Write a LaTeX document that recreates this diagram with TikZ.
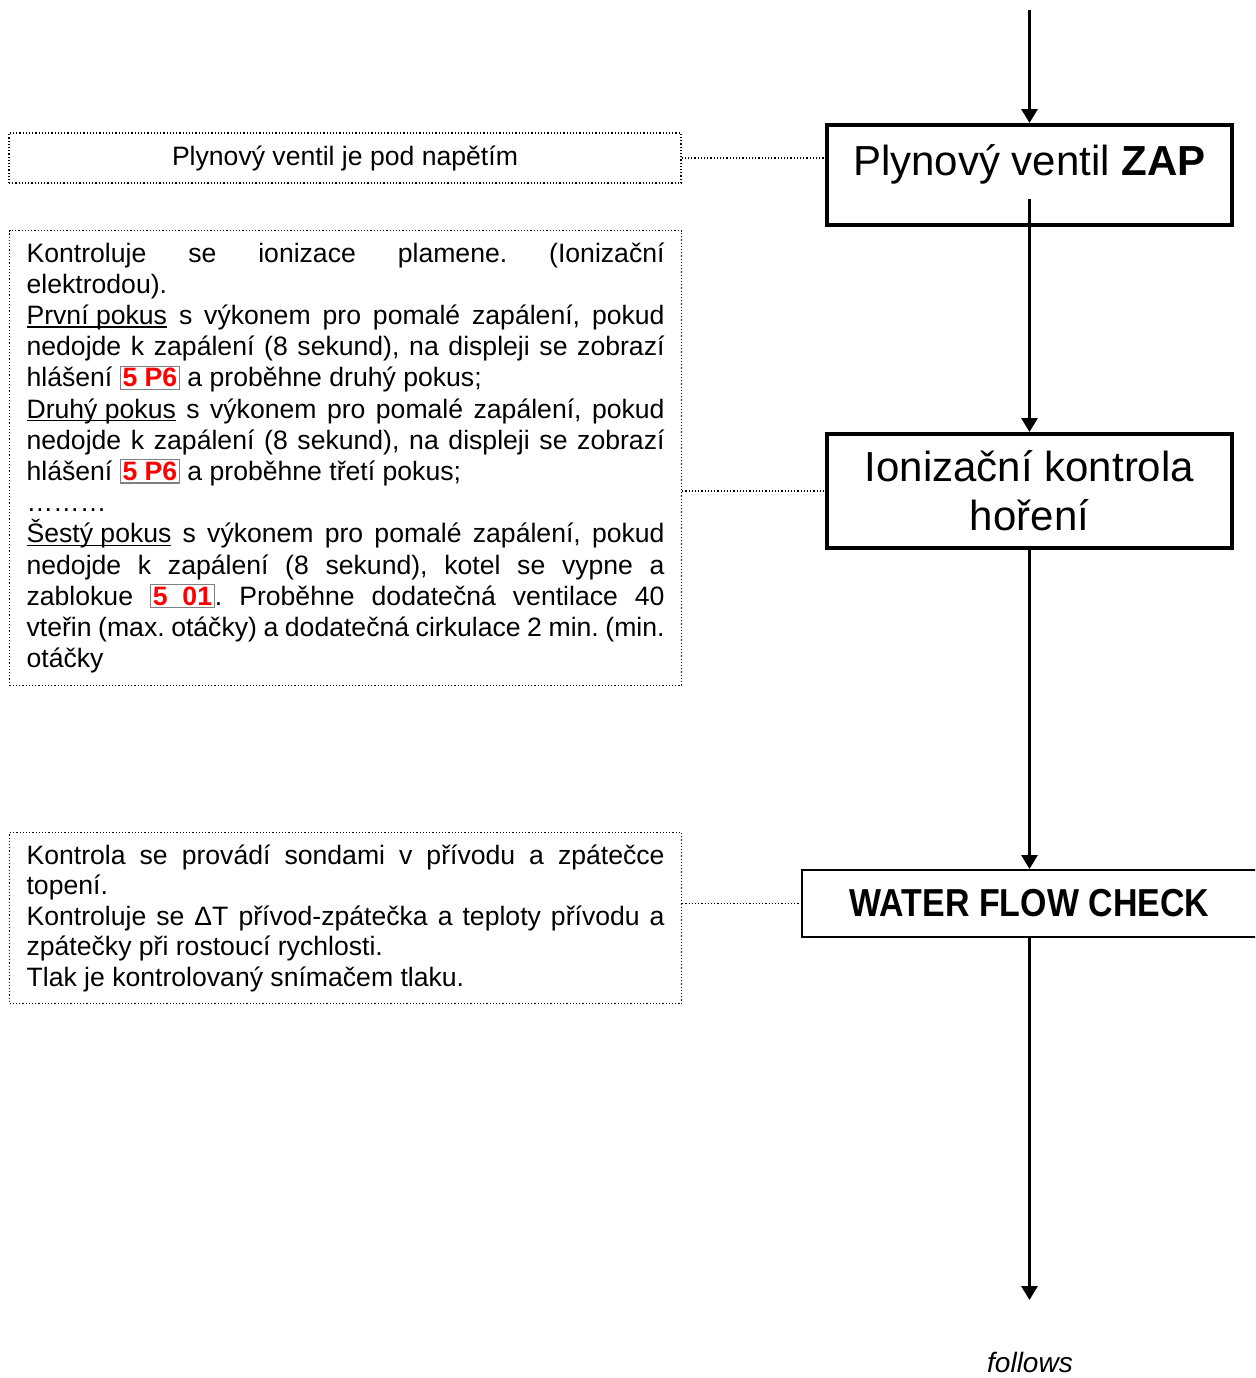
\documentclass[tikz,border=0pt]{standalone}
\usepackage{fontspec}
\setmainfont{Liberation Sans}
\newfontfamily\narrowfont{Liberation Sans}[FakeStretch=0.87]
\usetikzlibrary{arrows.meta, positioning}
\setlength{\parindent}{0pt}
\frenchspacing
\newsavebox{\ulbox}
\newcommand{\ulword}[1]{\leavevmode\sbox{\ulbox}{#1}\rlap{\rule[-1.5pt]{\wd\ulbox}{0.55pt}}\usebox{\ulbox}}
\newcommand{\errcode}[1]{{\setlength{\fboxsep}{0.8pt}\setlength{\fboxrule}{0.6pt}\fcolorbox{gray}{white}{\textcolor{red}{\textbf{#1}}}}}

\begin{document}
\begin{tikzpicture}[x=0.5pt, y=-0.5pt]
\tikzset{
  stepbox/.style={
    draw,
    line width=2pt,
    fill=white,
    minimum width=202.5pt,
    align=center,
    font=\fontsize{21}{24.5}\selectfont
  },
  notebox/.style={
    draw,
    densely dotted,
    line width=0.6pt,
    inner xsep=8.5pt,
    inner ysep=6pt
  },
  notetext/.style={
    notebox,
    text width=319pt,
    align=justify
  },
  flow/.style={-{Triangle[length=7pt, width=8pt]}, line width=1.5pt},
  link/.style={densely dotted, line width=0.6pt}
}
\useasboundingbox (0,0) rectangle (1255,1378);
\clip (0,0) rectangle (1255,1378);

% Flow boxes on the right
\node[stepbox, minimum height=50pt, inner ysep=0pt, text height=25pt, text depth=25pt] (zap) at (1029.5,175) {Plynový ventil \textbf{ZAP}};
\node[stepbox, minimum height=57pt] (ion) at (1029.5,491) {Ionizační kontrola\\hoření};
\node[stepbox, line width=1pt, minimum width=228pt, minimum height=33.5pt, font=\fontsize{19.5}{22}\narrowfont\bfseries] (wfc) at (1029.5,903.5) {WATER FLOW CHECK};
\node[font=\fontsize{14}{16}\selectfont\itshape] (follows) at (1030,1362) {follows};

% Free ends of the flow
\coordinate (start) at (1029.5,10);
\coordinate (zapout) at ([yshift=14pt]zap.south);
\coordinate (next) at (1029.5,1300);

% Notes on the left
\node[notebox, minimum width=336pt, minimum height=25pt, font=\fontsize{13.3}{15.6}\selectfont] (gasnote) at (345,158) {Plynový ventil je pod napětím};

\node[notetext, anchor=north west, font=\fontsize{13.3}{15.6}\selectfont] (ionnote) at (9,230) {%
Kontroluje se ionizace plamene. (Ionizační\linebreak elektrodou).\par
\ulword{První pokus} s výkonem pro pomalé zapálení, pokud\linebreak nedojde k zapálení (8 sekund), na displeji se zobrazí\linebreak hlášení \errcode{5 P6} a proběhne druhý pokus;\par
\ulword{Druhý pokus} s výkonem pro pomalé zapálení, pokud\linebreak nedojde k zapálení (8 sekund), na displeji se zobrazí\linebreak hlášení \errcode{5 P6} a proběhne třetí pokus;\par
………\par
\ulword{Šestý pokus} s výkonem pro pomalé zapálení, pokud\linebreak nedojde k zapálení (8 sekund), kotel se vypne a\linebreak zablokue \errcode{5\ \ 01}. Proběhne dodatečná ventilace 40\linebreak vteřin (max. otáčky) a dodatečná cirkulace 2 min. (min.\linebreak otáčky};

\node[notetext, anchor=north west, font=\fontsize{13.3}{15.25}\selectfont] (flownote) at (9,832) {%
Kontrola se provádí sondami v přívodu a zpátečce\linebreak topení.\par
Kontroluje se ΔT přívod-zpátečka a teploty přívodu a\linebreak zpátečky při rostoucí rychlosti.\par
Tlak je kontrolovaný snímačem tlaku.};

% Main flow arrows
\draw[flow] (start) -- (zap.north);
\draw[flow] (zapout) -- (ion.north);
\draw[flow] (ion.south) -- (wfc.north);
\draw[flow] (wfc.south) -- (next);

% Dotted links from notes to boxes
\draw[link] (gasnote.east) -- (gasnote.east -| zap.west);
\draw[link] (ionnote.east |- ion.west) -- (ion.west);
\draw[link] (flownote.east |- wfc.west) -- (wfc.west);

\end{tikzpicture}
\end{document}
